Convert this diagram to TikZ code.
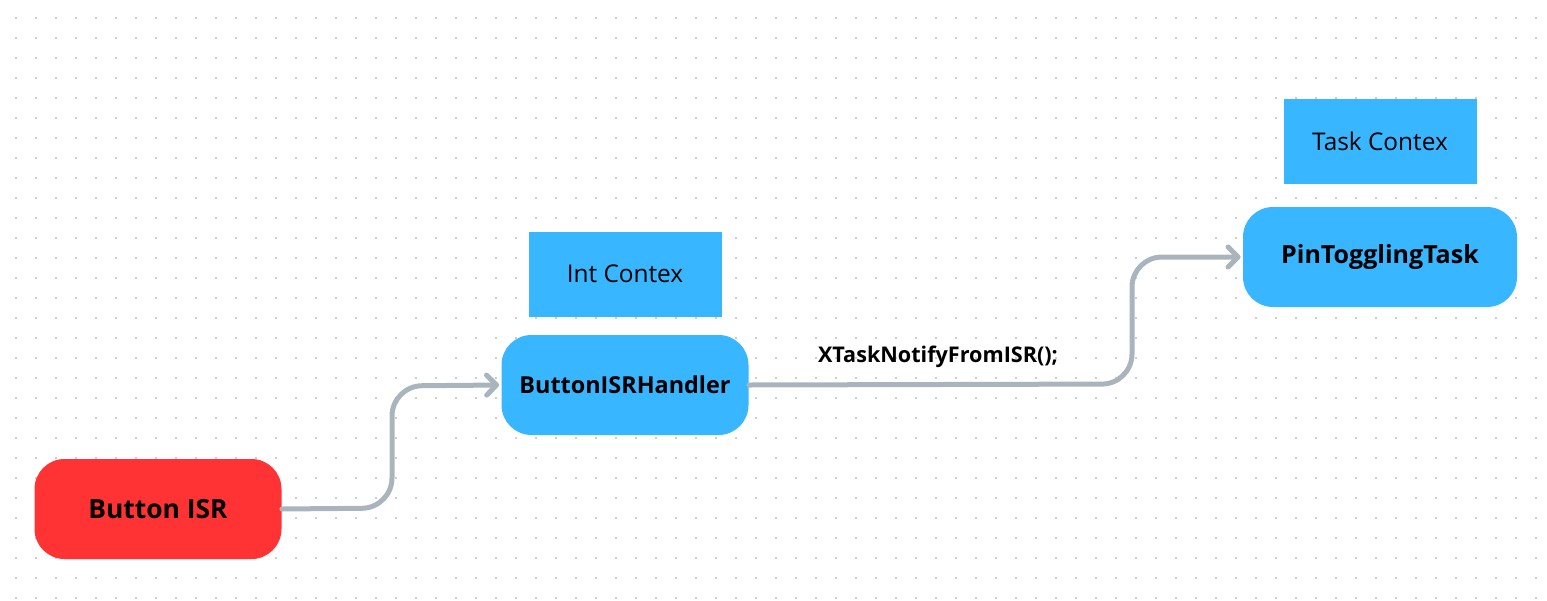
\documentclass[tikz,border=0pt]{standalone}
\usepackage{fontspec}
\setmainfont{Open Sans}
\usetikzlibrary{arrows.meta}
\definecolor{isrred}{HTML}{FF3333}
\definecolor{taskblue}{HTML}{38B6FF}
\definecolor{wiregray}{HTML}{AAB4BC}
\definecolor{dotgray}{HTML}{C9CED8}

\begin{document}
\begin{tikzpicture}[x=0.5pt,y=-0.5pt,
   block/.style={fill=taskblue,rounded corners=15pt,inner sep=0pt,
      minimum width=123.5pt,minimum height=50pt,
      font=\bfseries\fontsize{11.7}{14}\selectfont},
   ctx/.style={fill=taskblue,inner sep=0pt,minimum width=96.5pt,
      minimum height=42.5pt,font=\fontsize{12.2}{14}\selectfont},
   wire/.style={draw=wiregray,line width=2.5pt,line cap=round,
      rounded corners=15pt,-{Straight Barb[round,length=5pt,width=10pt]}}]
\useasboundingbox (0,0) rectangle (1547,600);
% dotted canvas
\foreach \i in {0,...,76}
  \foreach \j in {0,...,29}
    \fill[dotgray] ({16+20*\i-1},{18+20*\j-1}) rectangle ++(2,2);

% blocks
\node[block,fill=isrred,font=\bfseries\fontsize{13.2}{15}\selectfont]
   (isr) at (158,509) {Button ISR};
\node[block] (handler) at (625,385) {ButtonISRHandler};
\node[block,minimum width=137pt,font=\bfseries\fontsize{12.5}{15}\selectfont]
   (task) at (1380,257) {PinTogglingTask};
\node[ctx] (intctx) at (625,274) {Int Contex};
\node[ctx] (taskctx) at (1380,141) {Task Contex};

% connectors
\draw[wire] (isr.east) -- (392,508) -- (392,386) -- ([xshift=-1pt]handler.west);
\draw[wire] (handler.east) -- (1132,384) -- (1132,257) -- ([xshift=-1pt]task.west);
\node[font=\bfseries\fontsize{10.8}{13}\selectfont] (notify) at (938,357)
   {XTaskNotifyFromISR();};
\end{tikzpicture}
\end{document}
